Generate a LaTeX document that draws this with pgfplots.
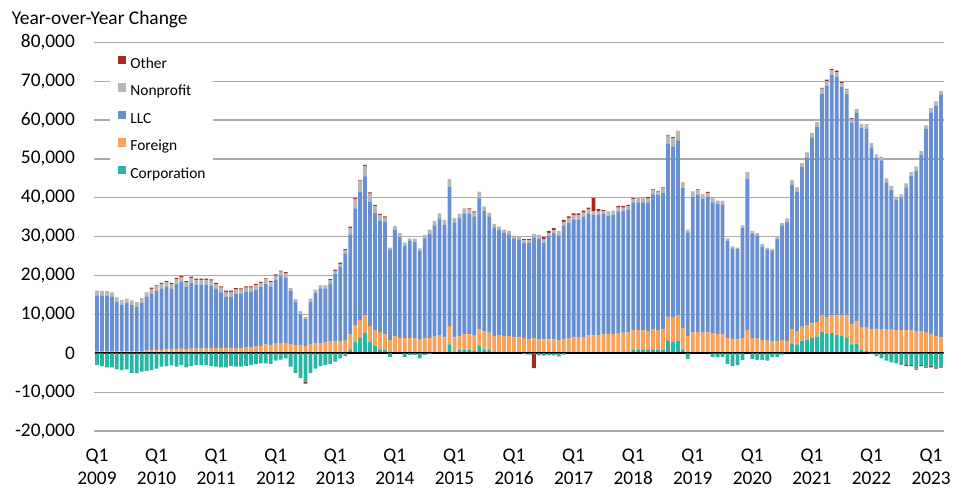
\documentclass[border=0pt]{standalone}
\usepackage{pgfplots}
\pgfplotsset{compat=1.18}
\usepackage{pgfplotstable}
\usepackage{fontspec}
\setmainfont{Carlito}
\definecolor{cCorp}{RGB}{41,182,164}
\definecolor{cFor}{RGB}{248,162,90}
\definecolor{cLLC}{RGB}{104,143,207}
\definecolor{cNon}{RGB}{183,183,183}
\definecolor{cOth}{RGB}{168,42,30}
\definecolor{cGrid}{RGB}{170,170,170}
\pgfplotstableread{
k cp cn f l n op on
0 0 -3000 600 14300 1200 0 0
1 0 -3300 600 14200 1200 0 0
2 0 -3600 600 14200 1200 0 0
3 0 -3600 600 13900 1200 0 0
4 0 -4100 600 12600 1200 0 0
5 0 -4300 500 12000 1200 0 0
6 0 -4100 500 12400 1200 0 0
7 0 -5000 500 11900 1200 0 0
8 0 -5100 600 11400 1200 0 0
9 0 -4700 600 12400 1200 0 0
10 0 -4500 700 13800 1200 0 0
11 0 -4300 800 14600 1200 300 0
12 0 -3900 900 15100 1200 300 0
13 0 -3400 900 15700 1200 300 0
14 0 -3300 1000 16100 1200 300 0
15 0 -3100 1000 15600 1200 300 0
16 0 -3400 1100 16800 1200 300 0
17 0 -3000 1200 17200 1200 300 0
18 0 -3600 1100 16000 1200 300 0
19 0 -3300 1200 17000 1200 300 0
20 0 -3000 1200 16500 1200 300 0
21 0 -3000 1200 16500 1200 300 0
22 0 -3000 1300 16400 1200 300 0
23 0 -3300 1300 16200 1200 300 0
24 0 -3400 1400 15200 1200 300 0
25 0 -3600 1300 14400 1200 300 0
26 0 -3600 1300 13300 1200 300 0
27 0 -3300 1300 13300 1200 300 0
28 0 -3400 1200 14100 1200 300 0
29 0 -3400 1300 14000 1100 300 0
30 0 -3200 1500 14300 1100 300 0
31 0 -3000 1500 14300 1100 300 0
32 0 -2800 1700 14700 1100 300 0
33 0 -2600 1900 15100 1100 300 0
34 0 -2600 2300 15600 1100 300 0
35 0 -2700 2100 15100 1100 300 0
36 0 -1900 2600 16300 1100 300 0
37 0 -1600 2700 17200 1100 300 0
38 0 -1300 2700 16800 1100 300 0
39 0 -3400 2400 13700 600 100 0
40 0 -5000 2100 11100 600 100 0
41 0 -6400 2000 8000 600 100 0
42 0 -7300 1900 6900 600 0 -500
43 0 -5000 2400 10900 600 100 0
44 0 -3900 2600 13000 600 100 0
45 0 -3300 2700 14000 600 100 0
46 0 -3000 2800 13900 600 100 0
47 0 -2700 3000 15000 800 300 0
48 0 -2100 3100 17300 800 300 0
49 0 -1300 3200 19000 800 300 0
50 0 -700 3300 22400 800 300 0
51 1000 0 3900 25700 1700 300 0
52 3000 0 4100 30200 2300 300 0
53 4100 0 4500 33000 2600 300 0
54 5300 0 4600 35600 2700 300 0
55 3000 0 4000 32000 2100 300 0
56 1900 0 4100 30200 1700 300 0
57 1000 0 4300 28800 1500 300 0
58 900 0 4000 29000 1000 300 0
59 0 -900 3400 23200 600 0 0
60 400 0 4100 27300 1000 0 0
61 200 0 3700 26000 1000 0 0
62 0 -900 3900 23700 900 0 0
63 0 -400 3900 25000 700 0 0
64 0 -400 3900 24700 900 0 0
65 0 -1300 3700 22700 600 0 0
66 0 -400 3900 25700 900 0 0
67 0 -200 4000 26800 1000 0 0
68 0 0 4300 28600 1200 0 0
69 400 0 4300 30000 1300 0 0
70 0 0 4100 28900 1300 0 0
71 2300 0 4700 35900 1900 0 0
72 400 0 3700 29600 1100 0 0
73 900 0 3600 30300 1100 0 0
74 900 0 4100 31000 1300 0 0
75 800 0 4100 31000 1100 300 0
76 600 0 4100 30500 1000 300 0
77 1900 0 4400 33600 1700 0 0
78 1000 0 4600 31100 1100 0 0
79 900 0 4400 29900 1000 0 0
80 400 0 4100 27900 900 0 0
81 400 0 4300 27000 900 0 0
82 300 0 4200 26400 900 0 0
83 200 0 4300 26100 900 0 0
84 0 0 4100 25500 700 0 0
85 0 0 4100 25200 700 0 0
86 0 -200 3900 24600 600 300 0
87 0 -300 3700 24800 600 300 0
88 0 -200 3900 25900 900 0 -3600
89 0 -500 3700 25900 900 0 0
90 0 -600 3600 24900 900 500 0
91 0 -500 3600 26600 800 500 0
92 0 -500 3600 27300 800 500 0
93 0 -800 3400 26800 1300 0 0
94 0 -300 3700 29100 1000 500 0
95 0 0 3900 29600 1200 500 0
96 100 0 4000 30200 1200 500 0
97 100 0 4100 30100 1200 500 0
98 100 0 4100 30900 1100 500 0
99 100 0 4500 31400 1000 500 0
100 100 0 4500 31000 1000 3300 0
101 200 0 4500 30900 1000 500 0
102 200 0 4700 31000 700 300 0
103 300 0 4700 30400 1100 0 0
104 300 0 4700 30700 1000 0 0
105 300 0 4900 31300 1000 400 0
106 400 0 4900 31300 900 400 0
107 400 0 4900 31600 900 400 0
108 1000 0 5000 32800 800 300 0
109 1000 0 5000 32800 1100 0 0
110 1000 0 5000 32800 1100 0 0
111 1000 0 4800 33000 1000 400 0
112 1000 0 5200 34700 1100 200 0
113 1000 0 5000 34800 800 200 0
114 1000 0 5200 35000 1200 300 0
115 3200 0 6200 44500 2100 200 0
116 3000 0 6300 43900 2200 200 0
117 3300 0 6400 45100 2300 100 0
118 900 0 5500 36100 1300 100 0
119 0 -1500 4500 26600 700 0 0
120 0 0 5400 34900 1100 200 0
121 100 0 5400 35300 1200 200 0
122 100 0 5200 34400 1000 100 0
123 100 0 5300 34900 1000 200 0
124 0 -900 5200 33600 1100 0 0
125 0 -1000 5000 33400 900 0 0
126 0 -900 5000 33200 1000 0 0
127 0 -2800 4000 25000 600 0 0
128 0 -3300 3700 23300 500 0 0
129 0 -3000 3600 23200 400 0 0
130 0 -1700 3900 28300 700 0 0
131 500 0 5500 38800 1500 200 0
132 0 -1500 3900 26800 800 0 0
133 0 -1700 3800 26400 700 0 0
134 0 -1700 3400 24100 600 0 0
135 0 -1900 3300 23300 600 0 0
136 0 -1000 3100 23300 500 0 0
137 0 -900 3200 26200 800 0 0
138 0 -300 3400 29400 700 0 0
139 300 0 2800 30800 800 0 0
140 2400 0 3800 37100 1300 0 0
141 2300 0 3300 36000 1100 0 0
142 3300 0 3600 41000 1000 0 0
143 3400 0 3700 43300 1300 0 0
144 4000 0 3700 47700 1300 0 0
145 4300 0 3700 50200 1200 100 0
146 5600 0 4300 56800 1400 200 0
147 5000 0 4400 59400 1200 400 0
148 5200 0 4700 61800 1100 300 0
149 4700 0 5200 61200 1200 400 0
150 4500 0 5200 58800 1000 300 0
151 4100 0 5800 56900 1000 200 0
152 2300 0 5300 51800 900 200 0
153 2400 0 5800 53600 1000 0 0
154 900 0 5700 51300 900 100 0
155 600 0 6000 51200 1000 100 0
156 0 -200 6200 46800 1100 0 0
157 0 -700 6200 44000 1000 0 0
158 0 -1300 6200 43400 1000 0 0
159 0 -1900 6200 37800 1000 0 0
160 0 -2300 6200 35900 1000 0 0
161 0 -2600 6000 33500 800 0 0
162 0 -2600 6000 33900 1000 0 -300
163 0 -3000 6000 36700 1000 0 -300
164 0 -3000 6000 39700 900 0 -300
165 0 -3900 5600 41400 1100 0 -300
166 0 -3000 5600 45500 900 0 -300
167 0 -3400 5300 52400 900 0 -300
168 0 -3300 5000 57000 1100 0 -300
169 0 -3600 4500 59200 1100 0 -300
170 0 -3400 4100 62400 1000 0 -300
}\data
\pgfplotsset{
  common/.style={
    scale only axis, width=849bp, height=388.8bp,
    xmin=-0.5, xmax=170.5, ymin=-20000, ymax=80000,
    at={(0,0)}, anchor=south west,
    ybar stacked, bar width=3.8bp,
    scaled y ticks=false,
  },
}
\begin{document}
\begin{tikzpicture}
\path[use as bounding box] (-94.5bp,-57.9bp) rectangle (876.5bp,431.1bp);
\begin{axis}[common,
  axis line style={draw=none},
  major tick length=0pt,
  ytick={-20000,-10000,...,80000},
  yticklabels={{-20,000},{-10,000},{0},{10,000},{20,000},{30,000},{40,000},{50,000},{60,000},{70,000},{80,000}},
  xtick={0,12,...,168},
  xticklabels={{Q1\\2009},{Q1\\2010},{Q1\\2011},{Q1\\2012},{Q1\\2013},{Q1\\2014},{Q1\\2015},{Q1\\2016},{Q1\\2017},{Q1\\2018},{Q1\\2019},{Q1\\2020},{Q1\\2021},{Q1\\2022},{Q1\\2023}},
  ymajorgrids, grid style={cGrid, line width=1.3bp},
  yticklabel style={font=\fontsize{19.4}{23}\selectfont, inner sep=0pt, xshift=-19.5bp, anchor=east},
  xticklabel style={font=\fontsize{19.4}{23.3}\selectfont, align=center, inner sep=0pt, anchor=north, yshift=-17.6bp},
  legend style={at={(axis description cs:0.01826,0.98534)}, anchor=north west, draw=none, fill=white,
    inner xsep=7.8bp, inner ysep=7.5bp, font=\fontsize{15.5}{18}\selectfont, row sep=11.6bp,
    nodes={inner sep=0pt, text height=10.5bp, text depth=3.5bp},
    /tikz/every odd column/.append style={column sep=4bp}},
  legend cell align=left,
  reverse legend,
  legend image code/.code={\fill[#1] (0bp,0.6bp) rectangle (8.4bp,9bp);},
]
\addplot[fill=cCorp, draw=none] table[x=k,y=cp]{\data};
\addlegendentry{Corporation}
\addplot[fill=cFor, draw=none] table[x=k,y=f]{\data};
\addlegendentry{Foreign}
\addplot[fill=cLLC, draw=none] table[x=k,y=l]{\data};
\addlegendentry{LLC}
\addplot[fill=cNon, draw=none] table[x=k,y=n]{\data};
\addlegendentry{Nonprofit}
\addplot[fill=cOth, draw=none] table[x=k,y=op]{\data};
\addlegendentry{Other}
\end{axis}
\begin{axis}[common, hide axis]
\addplot[fill=cCorp, draw=none] table[x=k,y=cn]{\data};
\addplot[fill=cOth, draw=none] table[x=k,y=on]{\data};
\draw[black, line width=2bp] (axis cs:-0.5,0) -- (axis cs:170.5,0);
\end{axis}
\node[anchor=base west, font=\fontsize{19.5}{23}\selectfont, inner sep=0pt] at (-82.8bp,406.1bp) {Year-over-Year Change};
\end{tikzpicture}
\end{document}
